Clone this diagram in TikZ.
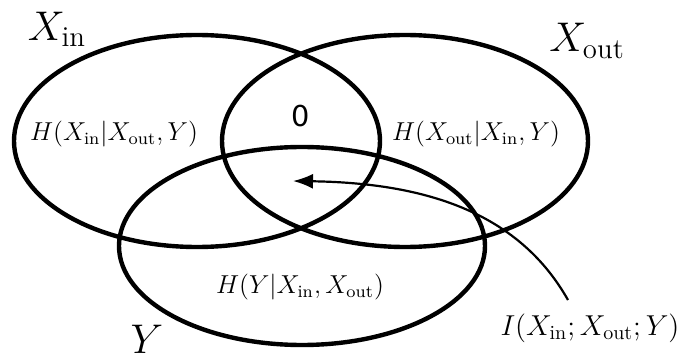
\documentclass[tikz,border=0pt]{standalone}
\usepackage{fontspec}
\usepackage{graphicx}
\newfontfamily\zerofont{DejaVu Sans}
\usetikzlibrary{arrows.meta}
\newcommand{\hscaled}[1]{\scalebox{1.08}{#1}}
\tikzset{
  setline/.style={line width=2.2pt},
  biglabel/.style={font=\huge, inner sep=0pt},
  hlabel/.style={font=\large, inner sep=0pt},
  ilab/.style={font=\Large, inner sep=0pt},
  pointer/.style={line width=1.1pt, -{Latex[length=10pt,width=7.5pt]}}
}
\begin{document}
\begin{tikzpicture}[x=0.5pt, y=-0.5pt]
\useasboundingbox (0,0) rectangle (681,358);
% sets
\draw[setline] (197,141) ellipse [x radius=183, y radius=106];
\draw[setline] (405,141) ellipse [x radius=183, y radius=106];
\draw[setline] (302,246) ellipse [x radius=183, y radius=99];
% set names
\node[biglabel] (xin) at (57,29) {$X_{\mathrm{in}}$};
\node[biglabel] (xout) at (587,41) {$X_{\mathrm{out}}$};
\node[biglabel] (y) at (147,339) {$Y$};
% region labels
\node[hlabel] (hin) at (114,134) {\hscaled{$H(X_{\mathrm{in}}|X_{\mathrm{out}},Y)$}};
\node[hlabel] (hout) at (476,134) {\hscaled{$H(X_{\mathrm{out}}|X_{\mathrm{in}},Y)$}};
\node[hlabel] (hy) at (300,287) {\hscaled{$H(Y|X_{\mathrm{in}},X_{\mathrm{out}})$}};
\node[font=\Large\zerofont, inner sep=0pt] (zero) at (301,116) {0};
\node[ilab] (ilabel) at (590,328) {$I(X_{\mathrm{in}};X_{\mathrm{out}};Y)$};
% pointer
\coordinate (itail) at (568,300);
\coordinate (ihead) at (293,181);
\draw[pointer] (itail) .. controls (520,215) and (430,183) .. (ihead);
\end{tikzpicture}
\end{document}
